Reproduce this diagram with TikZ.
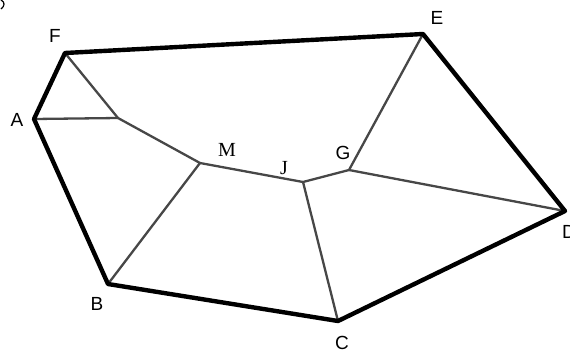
\documentclass[tikz,border=0pt]{standalone}
\usepackage{fontspec}
\setmainfont{Liberation Sans}
\newfontfamily\serifpt{Liberation Serif}
\usetikzlibrary{positioning}

\begin{document}
\begin{tikzpicture}[x=1pt, y=-1pt,
    rim/.style={line width=4.4pt, line join=round, line cap=round},
    spine/.style={line width=2.3pt, draw=black!72, line cap=round},
    vlabel/.style={font=\fontsize{19}{19}\selectfont, inner sep=0pt},
    slabel/.style={font=\serifpt\fontsize{20}{20}\selectfont, inner sep=0pt}]

    \useasboundingbox (0,0) rectangle (570,354);

    % Outer vertices
    \coordinate (F) at (65,53);
    \coordinate (E) at (423,34);
    \coordinate (D) at (565,211);
    \coordinate (C) at (338,321);
    \coordinate (B) at (108,284);
    \coordinate (A) at (34,119);

    % Inner vertices
    \coordinate (P) at (118,118);
    \coordinate (M) at (200,163);
    \coordinate (J) at (303,182);
    \coordinate (G) at (349,170);

    % Inner skeleton
    \draw[spine] (F) -- (P) -- (M) -- (J) -- (G) -- (E);
    \draw[spine] (A) -- (P);
    \draw[spine] (M) -- (B);
    \draw[spine] (J) -- (C);
    \draw[spine] (G) -- (D);

    % Thick outer boundary
    \draw[rim] (F) -- (E) -- (D) -- (C) -- (B) -- (A) -- cycle;

    % Vertex labels
    \node[vlabel] (lF) at (55,36) {F};
    \node[vlabel] (lE) at (437,18) {E};
    \node[vlabel] (lD) at (569,232) {D};
    \node[vlabel] (lC) at (342,343) {C};
    \node[vlabel] (lB) at (97,304) {B};
    \node[vlabel] (lA) at (17,120) {A};
    \node[slabel] (lM) at (227,150) {M};
    \node[slabel] (lJ) at (284,168) {J};
    \node[vlabel] (lG) at (343,153) {G};

    % Stray mark in the corner
    \draw[line width=1.2pt] (1,0) .. controls (5,2) and (5,6) .. (1,9);

\end{tikzpicture}
\end{document}
